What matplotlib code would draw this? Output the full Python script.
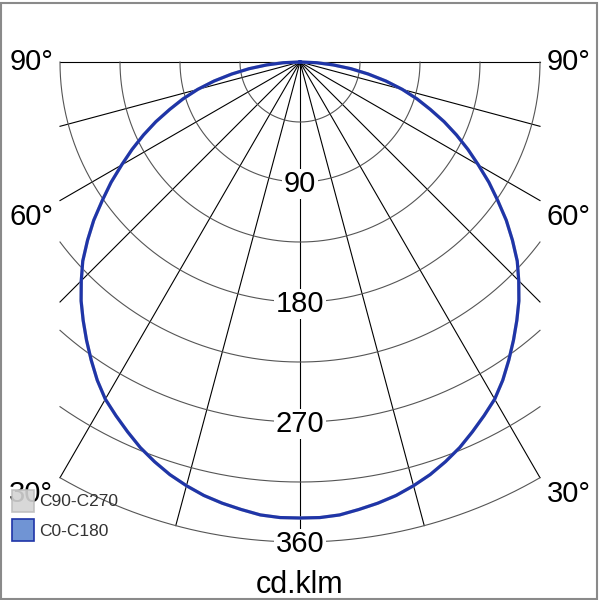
import numpy as np
import matplotlib.pyplot as plt
from matplotlib.patches import Rectangle

plt.rcParams['font.family'] = ['Liberation Sans', 'DejaVu Sans']

# luminous intensity, cd/klm, symmetric about nadir
angles = [0, 2.5, 5, 7.5, 10, 12.5, 15, 17.5, 20, 22.5, 25, 27.5, 30, 32.5, 35, 37.5,
          40, 42.5, 45, 47.5, 50, 52.5, 55, 57.5, 60, 62.5, 65, 67.5, 70, 72.5, 75,
          77.5, 80, 82.5, 85, 87.5, 90]
c0_c180 = [342, 342, 341, 338.5, 336, 333, 329, 324.5, 319, 313, 306, 299, 292, 283, 273, 263,
           253, 243, 232, 221, 208, 195, 181, 168, 154.5, 142, 129.5, 117, 104, 92, 79.5,
           66, 52, 38.5, 25, 12.5, 0]
c90_c270 = [342, 342, 341, 338.5, 336, 333, 329, 324.5, 319, 313, 306, 299, 292, 283, 273, 263,
            253, 243, 232, 221, 208, 195, 181, 168, 154.5, 142, 129.5, 117, 104, 92, 79.5,
            66, 52, 38.5, 25, 12.5, 0]
ring_labels = [90, 180, 270, 360]
angle_labels = ["90°", "60°", "30°"]
legend_names = ["C90-C270", "C0-C180"]
unit = "cd.klm"

rmax = 360
xmax = 180

fig = plt.figure(figsize=(6, 6), dpi=100)
ax = fig.add_axes([0, 0, 1, 1])
ax.set_xlim(-225, 225)
ax.set_ylim(-403.5, 46.5)
ax.axis("off")

# radial lines every 15 deg
for a in range(-90, 91, 15):
    t = np.radians(a)
    s = abs(np.sin(t))
    r_end = rmax if s < 1e-9 else min(rmax, xmax / s)
    ax.plot([0, r_end * np.sin(t)], [0, -r_end * np.cos(t)], color="black", lw=0.8, zorder=1)

# circles every 45
for r in range(45, rmax + 1, 45):
    tmax = np.pi / 2 if r <= xmax else np.arcsin(xmax / r)
    t = np.linspace(-tmax, tmax, 300)
    ax.plot(r * np.sin(t), -r * np.cos(t), color="#555555", lw=0.8, zorder=1)

# curves
ang = np.array(angles)
th = np.radians(np.concatenate([-ang[::-1], ang[1:]]))
for vals, col, z in [(c90_c270, "#c8c8c8", 2), (c0_c180, "#1f35a8", 3)]:
    r = np.concatenate([vals[::-1], vals[1:]])
    ax.plot(r * np.sin(th), -r * np.cos(th), color=col, lw=2.3, zorder=z,
            solid_joinstyle="round")

# ring labels
for v in ring_labels:
    ax.text(0, -v - 7.5, str(v), ha="center", va="baseline", fontsize=21,
            bbox=dict(facecolor="white", edgecolor="none", pad=1), zorder=4)

# angle labels
for lab, yb in zip(angle_labels, [-6, -122, -330]):
    ax.text(-185, yb, lab, ha="right", va="baseline", fontsize=21, zorder=4)
    ax.text(185, yb, lab, ha="left", va="baseline", fontsize=21, zorder=4)

ax.text(0, -398.5, unit, ha="center", va="baseline", fontsize=22, zorder=4)

# legend
px = 1 / 1.3333
sw = 22 * px
ax.add_patch(Rectangle((-288 * px, -(512 - 62) * px), sw, sw, facecolor="#d4d4d4",
                       edgecolor="#bdbdbd", lw=1.2, alpha=0.9, zorder=5))
ax.add_patch(Rectangle((-288 * px, -(541 - 62) * px), sw, sw, facecolor="#7094d4",
                       edgecolor="#1f35a8", lw=1.2, zorder=5))
ax.text(-261 * px, -(506 - 62) * px, legend_names[0], ha="left", va="baseline",
        fontsize=12.5, color="#333333", zorder=5)
ax.text(-261 * px, -(536 - 62) * px, legend_names[1], ha="left", va="baseline",
        fontsize=12.5, color="#333333", zorder=5)

# figure border
fig.add_artist(Rectangle((0.002, 0.002), 0.993, 0.993, transform=fig.transFigure,
                         fill=False, edgecolor="#8a8a8a", lw=1.5))

fig.savefig("out.png", dpi=100)
